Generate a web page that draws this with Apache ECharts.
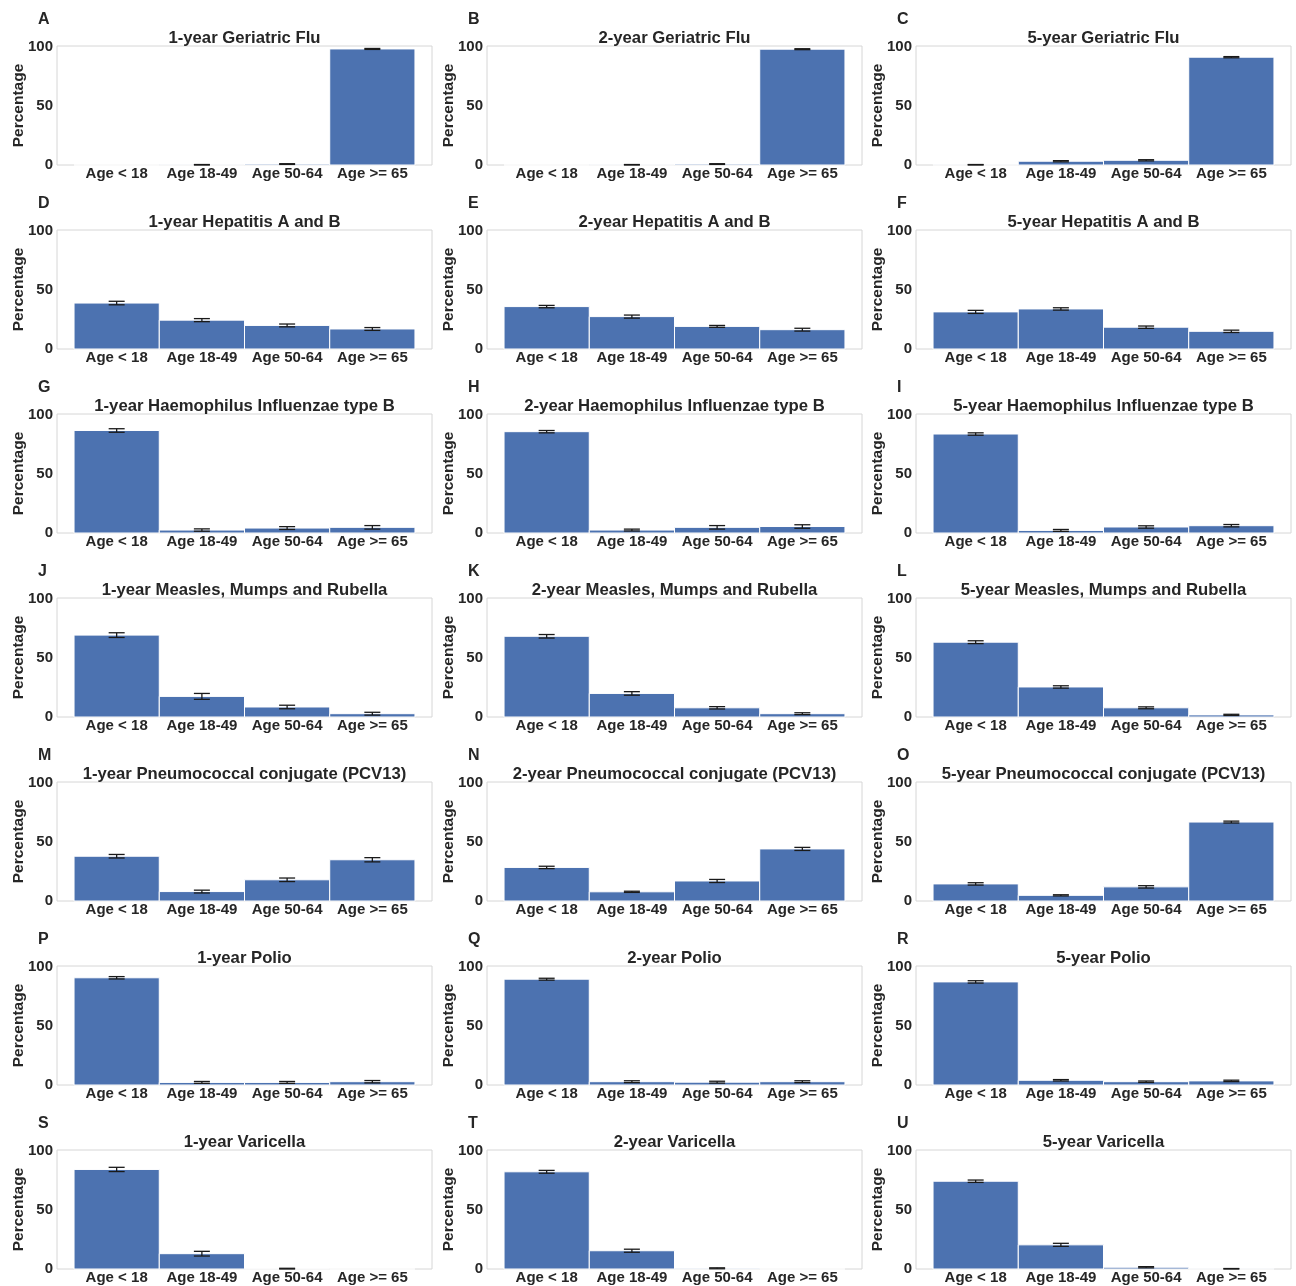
<!DOCTYPE html>
<html>
<head>
<meta charset="utf-8">
<title>Vaccination share by age group</title>
<script src="https://cdn.jsdelivr.net/npm/echarts@6/dist/echarts.min.js"></script>
<style>
  html, body { margin: 0; padding: 0; background: #ffffff; }
  #chart { width: 1296px; height: 1286px; }
</style>
</head>
<body>
<div id="chart"></div>
<script>
// Age groups on the x axis of every panel
const ageGroups = ['Age < 18', 'Age 18-49', 'Age 50-64', 'Age >= 65'];
// Time horizons (columns) and vaccines (rows)
const horizons = ['1-year', '2-year', '5-year'];
const vaccines = [
  'Geriatric Flu',
  'Hepatitis A and B',
  'Haemophilus Influenzae type B',
  'Measles, Mumps and Rubella',
  'Pneumococcal conjugate (PCV13)',
  'Polio',
  'Varicella'
];
const panelLetters = 'ABCDEFGHIJKLMNOPQRSTU'.split('');
const yTicks = [0, 50, 100];

// Percentage per age group, one list per horizon (1-, 2-, 5-year)
const fluPct = [[0, 0.2, 0.8, 98.5], [0, 0.2, 0.8, 98.3], [0.2, 3.2, 4.0, 91.5]];
const fluErr = [[0, 0.2, 0.3, 0.4], [0, 0.2, 0.3, 0.4], [0.2, 0.5, 0.5, 0.5]];

const hepPct = [[39.0, 24.5, 20.0, 17.0], [36.0, 27.5, 19.2, 16.4], [31.5, 34.0, 18.5, 15.0]];
const hepErr = [[1.5, 1.3, 1.2, 1.2], [1.0, 1.3, 0.8, 1.2], [1.3, 1.0, 1.0, 1.0]];

const hibPct = [[87.0, 2.5, 4.2, 4.8], [86.0, 2.5, 4.8, 5.5], [84.0, 2.2, 5.1, 6.2]];
const hibErr = [[1.5, 1.0, 1.2, 1.5], [1.0, 0.8, 1.5, 1.5], [1.0, 0.8, 1.0, 1.0]];

const mmrPct = [[69.5, 17.5, 8.5, 2.8], [68.5, 20.0, 7.8, 2.8], [63.5, 25.5, 7.8, 1.8]];
const mmrErr = [[2.0, 2.5, 1.5, 1.2], [1.5, 1.5, 1.0, 0.8], [1.2, 1.0, 0.8, 0.5]];

const pcvPct = [[38.0, 8.0, 18.0, 35.0], [28.5, 7.8, 17.0, 44.2], [14.5, 4.8, 12.0, 67.0]];
const pcvErr = [[1.5, 1.2, 1.5, 1.8], [1.0, 0.5, 1.3, 1.3], [1.0, 0.5, 1.0, 0.8]];

const polioPct = [[91.0, 2.2, 2.2, 2.8], [89.8, 2.8, 2.4, 2.8], [87.5, 4.0, 2.8, 3.5]];
const polioErr = [[1.0, 0.8, 0.8, 1.0], [0.8, 0.8, 0.8, 0.8], [1.0, 0.6, 0.6, 0.6]];

const varPct = [[84.5, 13.0, 0.3, 0], [82.5, 15.5, 0.6, 0], [74.5, 20.5, 1.5, 0.2]];
const varErr = [[1.8, 2.0, 0.3, 0], [1.2, 1.3, 0.4, 0], [1.0, 1.3, 0.5, 0.2]];

const pctByVaccine = [fluPct, hepPct, hibPct, mmrPct, pcvPct, polioPct, varPct];
const errByVaccine = [fluErr, hepErr, hibErr, mmrErr, pcvErr, polioErr, varErr];

// Layout of the 7 x 3 panel grid (pixels)
const colLeft = [57, 487, 916];
const plotWidth = 375;
const rowTop0 = 46;
const rowStep = 184;
const plotHeight = 119;

const textColor = '#262626';
const barColor = '#4C72B0';
const fontFamily = "'Liberation Sans', Arial, sans-serif";

const grids = [], xAxes = [], yAxes = [], series = [], titles = [];

vaccines.forEach((vac, r) => {
  horizons.forEach((hz, c) => {
    const idx = r * 3 + c;
    const left = colLeft[c];
    const top = rowTop0 + r * rowStep;
    grids.push({
      left: left, top: top, width: plotWidth, height: plotHeight,
      show: true, borderColor: '#d6d6d6', borderWidth: 1, backgroundColor: '#ffffff'
    });
    xAxes.push({
      type: 'value', gridIndex: idx, min: -0.7, max: 3.7,
      axisLine: { show: false }, axisTick: { show: false }, splitLine: { show: false },
      axisLabel: {
        customValues: [0, 1, 2, 3],
        formatter: v => ageGroups[Math.round(v)],
        color: textColor, fontWeight: 'bold', fontSize: 15, fontFamily: fontFamily, margin: 1
      }
    });
    yAxes.push({
      type: 'value', gridIndex: idx, min: 0, max: 101,
      name: 'Percentage', nameLocation: 'middle', nameRotate: 90, nameGap: 30,
      nameMoveOverlap: false,
      nameTextStyle: { color: textColor, fontWeight: 'bold', fontSize: 15.5, fontFamily: fontFamily },
      axisLine: { show: false }, axisTick: { show: false }, splitLine: { show: false },
      axisLabel: {
        customValues: yTicks,
        color: textColor, fontWeight: 'bold', fontSize: 15, fontFamily: fontFamily, margin: 4
      }
    });

    const pct = pctByVaccine[r][c];
    const err = errByVaccine[r][c];
    const data = pct.map((v, i) => [i, v, err[i]]);

    // bars spanning the full category width, separated by thin white edges
    series.push({
      type: 'custom', xAxisIndex: idx, yAxisIndex: idx, data: data,
      renderItem: (params, api) => {
        const x = api.value(0), v = api.value(1);
        const p0 = api.coord([x - 0.5, v]);
        const p1 = api.coord([x + 0.5, 0]);
        return {
          type: 'rect',
          shape: { x: p0[0], y: p0[1], width: p1[0] - p0[0], height: p1[1] - p0[1] },
          style: { fill: barColor, stroke: '#ffffff', lineWidth: 1 }
        };
      }
    });
    // error bars with caps
    series.push({
      type: 'custom', xAxisIndex: idx, yAxisIndex: idx, data: data, z: 5,
      renderItem: (params, api) => {
        const x = api.value(0), v = api.value(1), e = api.value(2);
        if (v === 0 && e === 0) return { type: 'group', children: [] };
        const hi = api.coord([x, v + e]);
        const lo = api.coord([x, Math.max(0, v - e)]);
        const cap = 8;
        const st = { stroke: '#1a1a1a', lineWidth: 1.3 };
        return {
          type: 'group',
          children: [
            { type: 'line', shape: { x1: hi[0], y1: hi[1], x2: lo[0], y2: lo[1] }, style: st },
            { type: 'line', shape: { x1: hi[0] - cap, y1: hi[1], x2: hi[0] + cap, y2: hi[1] }, style: st },
            { type: 'line', shape: { x1: lo[0] - cap, y1: lo[1], x2: lo[0] + cap, y2: lo[1] }, style: st }
          ]
        };
      }
    });

    titles.push({
      text: hz + ' ' + vac,
      left: left + plotWidth / 2 - 5, top: top - 21, textAlign: 'center',
      textStyle: { color: textColor, fontWeight: 'bold', fontSize: 16.7, fontFamily: fontFamily }
    });
    titles.push({
      text: panelLetters[idx],
      left: left - 24, top: top - 39,
      textStyle: { color: textColor, fontWeight: 'bold', fontSize: 16, fontFamily: fontFamily }
    });
  });
});

const chart = echarts.init(document.getElementById('chart'), null, { renderer: 'canvas' });
chart.setOption({
  backgroundColor: '#ffffff',
  animation: false,
  title: titles,
  grid: grids,
  xAxis: xAxes,
  yAxis: yAxes,
  series: series
});
</script>
</body>
</html>
